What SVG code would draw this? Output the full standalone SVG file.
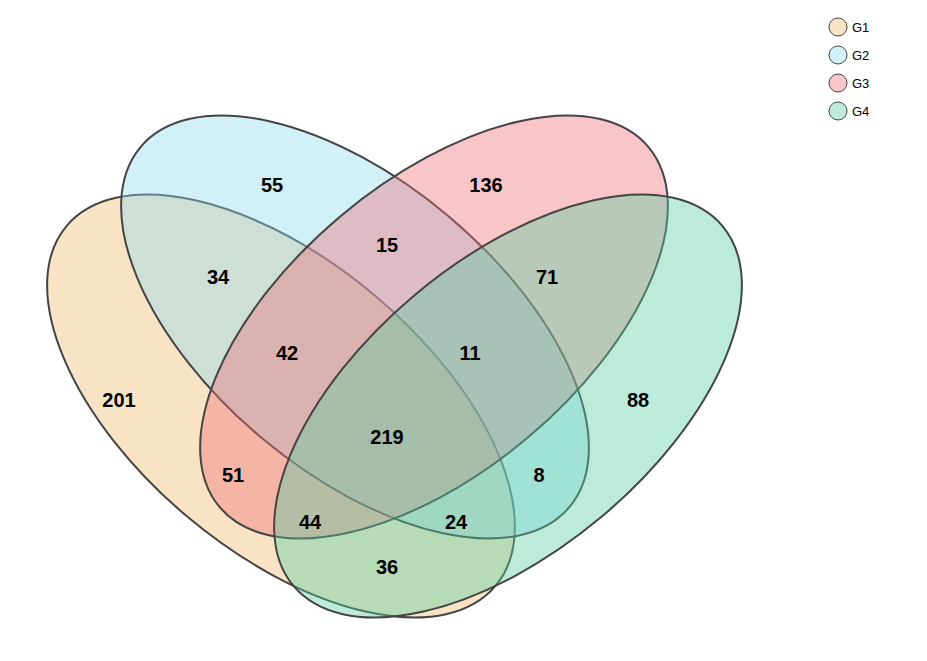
<svg xmlns="http://www.w3.org/2000/svg" width="927" height="661" viewBox="0 0 927 661">
<style>
.e{stroke:#444;stroke-width:2;fill-opacity:0.4}
.n{font-family:"Liberation Sans",Arial,sans-serif;font-size:20px;font-weight:bold;text-anchor:middle;fill:#000}
.l{font-family:"Liberation Sans",Arial,sans-serif;font-size:13px;fill:#000}
.lc{stroke:#444;stroke-width:1;fill-opacity:0.4}
</style>
<rect width="927" height="661" fill="#fff"/>
<g id="G1"><ellipse class="e" cx="281" cy="406" rx="280" ry="145" transform="rotate(40 281 406)" fill="#EDBB6E"/></g>
<g id="G2"><ellipse class="e" cx="355" cy="327" rx="280" ry="145" transform="rotate(40 355 327)" fill="#8ED9ED"/></g>
<g id="G3"><ellipse class="e" cx="434" cy="327" rx="280" ry="145" transform="rotate(-40 434 327)" fill="#ED6E78"/></g>
<g id="G4"><ellipse class="e" cx="508" cy="406" rx="280" ry="145" transform="rotate(-40 508 406)" fill="#57CDA2"/></g>
<g id="connectors"></g>
<g id="labels">
<text class="n" x="272" y="192">55</text>
<text class="n" x="486" y="192">136</text>
<text class="n" x="387" y="252">15</text>
<text class="n" x="218" y="284">34</text>
<text class="n" x="547" y="284">71</text>
<text class="n" x="287" y="360">42</text>
<text class="n" x="470" y="360">11</text>
<text class="n" x="119" y="407">201</text>
<text class="n" x="638" y="407">88</text>
<text class="n" x="387" y="444">219</text>
<text class="n" x="233" y="482">51</text>
<text class="n" x="539" y="482">8</text>
<text class="n" x="310" y="529">44</text>
<text class="n" x="456" y="529">24</text>
<text class="n" x="387" y="574">36</text>
</g>
<g id="legend">
<circle class="lc" cx="838" cy="27" r="9" fill="#EDBB6E"/><text class="l" x="852" y="32">G1</text>
<circle class="lc" cx="838" cy="55" r="9" fill="#8ED9ED"/><text class="l" x="852" y="60">G2</text>
<circle class="lc" cx="838" cy="83" r="9" fill="#ED6E78"/><text class="l" x="852" y="88">G3</text>
<circle class="lc" cx="838" cy="111" r="9" fill="#57CDA2"/><text class="l" x="852" y="116">G4</text>
</g>
</svg>
